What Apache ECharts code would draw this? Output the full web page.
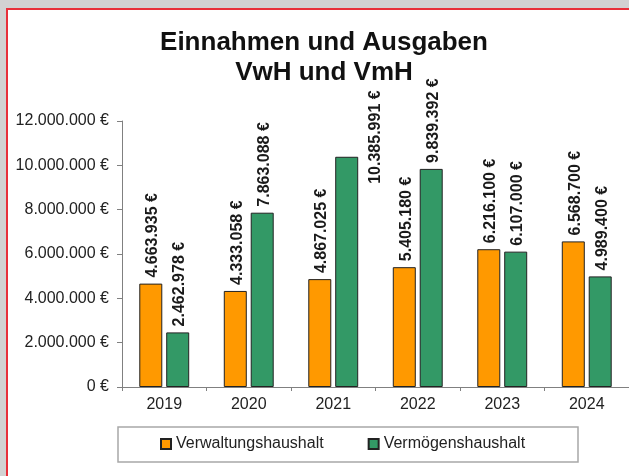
<!DOCTYPE html>
<html>
<head>
<meta charset="utf-8">
<script src="https://cdn.jsdelivr.net/npm/echarts@6/dist/echarts.min.js"></script>
<style>
  html, body { margin: 0; padding: 0; width: 629px; height: 476px; overflow: hidden; background: #d2d2d2; }
  #frame { position: absolute; left: 6px; top: 8px; width: 640px; height: 480px; background: #ffffff; border-left: 2px solid #e8303a; border-top: 2px solid #e8303a; }
  #chart { position: absolute; left: 0; top: 0; width: 629px; height: 476px; }
</style>
</head>
<body>
<div id="frame"></div>
<div id="chart"></div>
<script>
const categories = ['2019', '2020', '2021', '2022', '2023', '2024'];
const verwaltung = [4663935, 4333058, 4867025, 5405180, 6216100, 6568700];
const vermoegen = [2462978, 7863088, 10385991, 9839392, 6107000, 4989400];
const seriesNames = ['Verwaltungshaushalt', 'Vermögenshaushalt'];
const yTicks = [0, 2000000, 4000000, 6000000, 8000000, 10000000, 12000000];
const titleLines = ['Einnahmen und Ausgaben', 'VwH und VmH'];

function euro(v) {
  return String(Math.round(v)).replace(/\B(?=(\d{3})+(?!\d))/g, '.') + ' €';
}

const FONT = '"Liberation Sans", Arial, sans-serif';

const valueLabel = {
  show: true,
  position: 'top',
  rotate: 90,
  align: 'left',
  verticalAlign: 'middle',
  distance: 6,
  offset: [0, 2],
  fontFamily: FONT,
  fontSize: 16,
  fontWeight: 'bold',
  color: '#1a1a1a',
  formatter: p => euro(p.value)
};

const vermoegenData = vermoegen.map((v, i) => {
  if (i === 2) {
    return { value: v, label: { offset: [-33, 29] } };
  }
  return v;
});

const chart = echarts.init(document.getElementById('chart'), null, { renderer: 'canvas' });
chart.setOption({
  animation: false,
  backgroundColor: 'transparent',
  graphic: [
    { type: 'text', x: 324, y: 43, style: { text: titleLines[0], textAlign: 'center', textVerticalAlign: 'middle', font: 'bold 26px ' + FONT, fill: '#111' } },
    { type: 'text', x: 324, y: 73, style: { text: titleLines[1], textAlign: 'center', textVerticalAlign: 'middle', font: 'bold 26px ' + FONT, fill: '#111' } },
    { type: 'rect', shape: { x: 118, y: 427, width: 460, height: 35 }, style: { fill: '#fff', stroke: '#a8a8a8', lineWidth: 1.5 }, z: -1 }
  ],
  grid: { left: 122, top: 121, width: 511, height: 266, containLabel: false },
  legend: {
    left: 160,
    top: 436,
    padding: 0,
    itemWidth: 10,
    itemHeight: 10,
    itemGap: 44,
    icon: 'rect',
    textStyle: { fontFamily: FONT, fontSize: 16, color: '#222' },
    data: seriesNames
  },
  xAxis: {
    type: 'category',
    data: categories,
    axisLine: { lineStyle: { color: '#808080', width: 1 } },
    axisTick: { show: true, length: 4, lineStyle: { color: '#808080' } },
    axisLabel: { fontFamily: FONT, fontSize: 16, color: '#222', margin: 10 }
  },
  yAxis: {
    type: 'value',
    min: yTicks[0],
    max: yTicks[yTicks.length - 1],
    interval: yTicks[1] - yTicks[0],
    splitLine: { show: false },
    axisLine: { show: true, lineStyle: { color: '#808080', width: 1 } },
    axisTick: { show: true, length: 5, lineStyle: { color: '#808080' } },
    axisLabel: { fontFamily: FONT, fontSize: 16, color: '#222', margin: 13, formatter: v => euro(v) }
  },
  series: [
    {
      name: seriesNames[0],
      type: 'bar',
      data: verwaltung,
      barWidth: 23,
      barGap: '17%',
      itemStyle: { color: '#FF9900', borderColor: '#222', borderWidth: 1 },
      label: valueLabel
    },
    {
      name: seriesNames[1],
      type: 'bar',
      data: vermoegenData,
      barWidth: 23,
      barGap: '17%',
      itemStyle: { color: '#339966', borderColor: '#222', borderWidth: 1 },
      label: valueLabel
    }
  ]
});
</script>
</body>
</html>
